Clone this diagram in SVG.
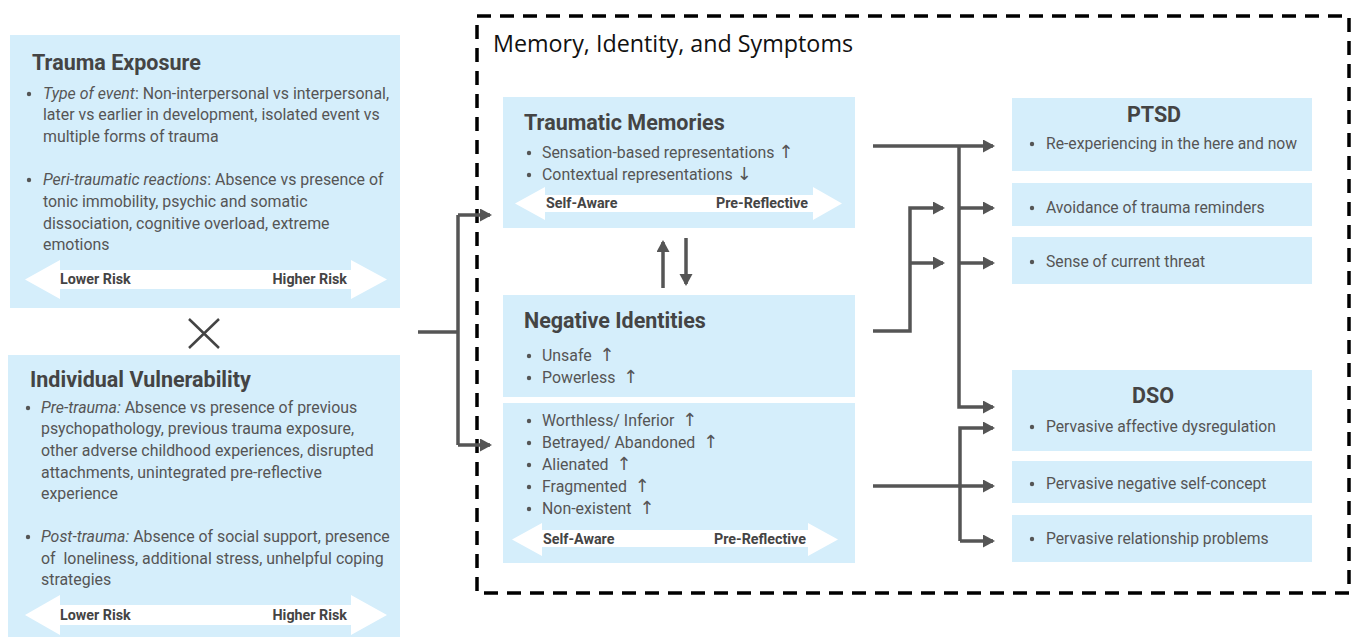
<svg xmlns="http://www.w3.org/2000/svg" width="1354" height="637" viewBox="0 0 1354 637">
<style>
.box{fill:#d5eefb}
.t{font-family:Roboto,"Liberation Sans",sans-serif;font-size:15.9px;fill:#555}
.r{font-size:15.7px}
.h{font-family:Roboto,"Liberation Sans",sans-serif;font-size:21.5px;font-weight:bold;fill:#444}
.b{font-family:Roboto,"Liberation Sans",sans-serif;font-size:14.3px;font-weight:bold;fill:#444}
.ar{font-family:"DejaVu Sans",sans-serif;font-size:18px}
.band{fill:#ffffff}
.c{fill:none;stroke:#555;stroke-width:3.5}
.dot{fill:#555}
</style>
<defs>
<marker id="ah" markerUnits="userSpaceOnUse" markerWidth="14" markerHeight="14" refX="10" refY="6.5" orient="auto">
<path d="M0,0 L12,6.5 L0,13 z" fill="#555"/>
</marker>
</defs>
<rect width="1354" height="637" fill="#ffffff"/>

<g id="trauma-exposure">
<rect class="box" x="10" y="35" width="390" height="273"/>
<text class="h" x="32" y="70">Trauma Exposure</text>
<circle class="dot" cx="29" cy="94" r="2.2"/>
<text class="t" x="43" y="99"><tspan font-style="italic">Type of event</tspan>: Non-interpersonal vs interpersonal,</text>
<text class="t" x="43" y="120">later vs earlier in development, isolated event vs</text>
<text class="t" x="43" y="142">multiple forms of trauma</text>
<circle class="dot" cx="29" cy="180" r="2.2"/>
<text class="t" x="43" y="185"><tspan font-style="italic">Peri-traumatic reactions</tspan>: Absence vs presence of</text>
<text class="t" x="43" y="207">tonic immobility, psychic and somatic</text>
<text class="t" x="43" y="229">dissociation, cognitive overload, extreme</text>
<text class="t" x="43" y="250">emotions</text>
<polygon class="band" points="25,279.5 60,260 60,270 351,270 351,260 387,279.5 351,299 351,289 60,289 60,299"/>
<text class="b" x="60" y="284">Lower Risk</text>
<text class="b" x="347" y="284" text-anchor="end">Higher Risk</text>
</g>

<g id="times">
<path d="M189,319 L219,348 M219,319 L189,348" stroke="#444" stroke-width="2.5" fill="none"/>
</g>

<g id="individual-vulnerability">
<rect class="box" x="8" y="355" width="392" height="282"/>
<text class="h" x="30" y="387">Individual Vulnerability</text>
<circle class="dot" cx="28" cy="408" r="2.2"/>
<text class="t" x="41" y="413"><tspan font-style="italic">Pre-trauma:</tspan> Absence vs presence of previous</text>
<text class="t" x="41" y="434">psychopathology, previous trauma exposure,</text>
<text class="t" x="41" y="456">other adverse childhood experiences, disrupted</text>
<text class="t" x="41" y="478">attachments, unintegrated pre-reflective</text>
<text class="t" x="41" y="499">experience</text>
<circle class="dot" cx="28" cy="537" r="2.2"/>
<text class="t" x="41" y="542"><tspan font-style="italic">Post-trauma:</tspan> Absence of social support, presence</text>
<text class="t" x="41" y="564" xml:space="preserve">of  loneliness, additional stress, unhelpful coping</text>
<text class="t" x="41" y="585">strategies</text>
<polygon class="band" points="25,615 60,595 60,605 351,605 351,595 387,615 351,635 351,625 60,625 60,635"/>
<text class="b" x="60" y="620">Lower Risk</text>
<text class="b" x="347" y="620" text-anchor="end">Higher Risk</text>
</g>

<g id="frame">
<rect x="477" y="16" width="872" height="577" fill="none" stroke="#000" stroke-width="3.5" stroke-dasharray="14 9"/>
<text x="493" y="52" font-family="'Open Sans','Liberation Sans',sans-serif" font-size="23.3" fill="#111">Memory, Identity, and Symptoms</text>
</g>

<g id="traumatic-memories">
<rect class="box" x="503" y="97" width="352" height="131"/>
<text class="h" x="524" y="130">Traumatic Memories</text>
<circle class="dot" cx="529" cy="153" r="2.2"/>
<text class="t" x="542" y="158">Sensation-based representations <tspan class="ar">↑</tspan></text>
<circle class="dot" cx="529" cy="175" r="2.2"/>
<text class="t" x="542" y="180">Contextual representations <tspan class="ar">↓</tspan></text>
<polygon class="band" points="515,203.5 545,187 545,195 813,195 813,187 842,203.5 813,220 813,212 545,212 545,220"/>
<text class="b" x="546" y="208">Self-Aware</text>
<text class="b" x="808" y="208" text-anchor="end">Pre-Reflective</text>
</g>

<g id="negative-identities">
<rect class="box" x="503" y="295" width="352" height="102"/>
<text class="h" x="524" y="328">Negative Identities</text>
<circle class="dot" cx="529" cy="356" r="2.2"/>
<text class="t" x="542" y="361" xml:space="preserve">Unsafe  <tspan class="ar">↑</tspan></text>
<circle class="dot" cx="529" cy="378" r="2.2"/>
<text class="t" x="542" y="383" xml:space="preserve">Powerless  <tspan class="ar">↑</tspan></text>
<rect class="box" x="503" y="403" width="352" height="160"/>
<circle class="dot" cx="529" cy="421" r="2.2"/>
<text class="t" x="542" y="426" xml:space="preserve">Worthless/ Inferior  <tspan class="ar">↑</tspan></text>
<circle class="dot" cx="529" cy="443" r="2.2"/>
<text class="t" x="542" y="448" xml:space="preserve">Betrayed/ Abandoned  <tspan class="ar">↑</tspan></text>
<circle class="dot" cx="529" cy="465" r="2.2"/>
<text class="t" x="542" y="470" xml:space="preserve">Alienated  <tspan class="ar">↑</tspan></text>
<circle class="dot" cx="529" cy="487" r="2.2"/>
<text class="t" x="542" y="492" xml:space="preserve">Fragmented  <tspan class="ar">↑</tspan></text>
<circle class="dot" cx="529" cy="509" r="2.2"/>
<text class="t" x="542" y="514" xml:space="preserve">Non-existent  <tspan class="ar">↑</tspan></text>
<polygon class="band" points="512,539.5 542,523 542,530 808,530 808,523 838,539.5 808,556 808,547 542,547 542,556"/>
<text class="b" x="543" y="544">Self-Aware</text>
<text class="b" x="806" y="544" text-anchor="end">Pre-Reflective</text>
</g>

<g id="ptsd">
<rect class="box" x="1012" y="98" width="300" height="73"/>
<text class="h" x="1154" y="122" text-anchor="middle">PTSD</text>
<circle class="dot" cx="1032" cy="144" r="2.2"/>
<text class="t r" x="1046" y="149">Re-experiencing in the here and now</text>
<rect class="box" x="1012" y="183" width="300" height="43"/>
<circle class="dot" cx="1032" cy="208" r="2.2"/>
<text class="t r" x="1046" y="213">Avoidance of trauma reminders</text>
<rect class="box" x="1012" y="237" width="300" height="47"/>
<circle class="dot" cx="1032" cy="262" r="2.2"/>
<text class="t r" x="1046" y="267">Sense of current threat</text>
</g>

<g id="dso">
<rect class="box" x="1012" y="370" width="300" height="81"/>
<text class="h" x="1153" y="403" text-anchor="middle">DSO</text>
<circle class="dot" cx="1032" cy="427" r="2.2"/>
<text class="t r" x="1046" y="432">Pervasive affective dysregulation</text>
<rect class="box" x="1012" y="461" width="300" height="42"/>
<circle class="dot" cx="1032" cy="484" r="2.2"/>
<text class="t r" x="1046" y="489">Pervasive negative self-concept</text>
<rect class="box" x="1012" y="515" width="300" height="47"/>
<circle class="dot" cx="1032" cy="539" r="2.2"/>
<text class="t r" x="1046" y="544">Pervasive relationship problems</text>
</g>

<g id="connectors">
<path class="c" d="M418,332 H458"/>
<path class="c" d="M458,215 V445"/>
<path class="c" d="M458,215 H490" marker-end="url(#ah)"/>
<path class="c" d="M458,445 H490" marker-end="url(#ah)"/>
<path class="c" d="M663,288 V242" marker-end="url(#ah)"/>
<path class="c" d="M686,238 V284" marker-end="url(#ah)"/>
<path class="c" d="M873,146 H993" marker-end="url(#ah)"/>
<path class="c" d="M959,146 V407 H993" marker-end="url(#ah)"/>
<path class="c" d="M959,208 H993" marker-end="url(#ah)"/>
<path class="c" d="M959,263 H993" marker-end="url(#ah)"/>
<path class="c" d="M873,331 H910 V208 H943" marker-end="url(#ah)"/>
<path class="c" d="M910,263 H943" marker-end="url(#ah)"/>
<path class="c" d="M873,486 H993" marker-end="url(#ah)"/>
<path class="c" d="M960,541 V428 H993" marker-end="url(#ah)"/>
<path class="c" d="M960,541 H993" marker-end="url(#ah)"/>
</g>
</svg>
